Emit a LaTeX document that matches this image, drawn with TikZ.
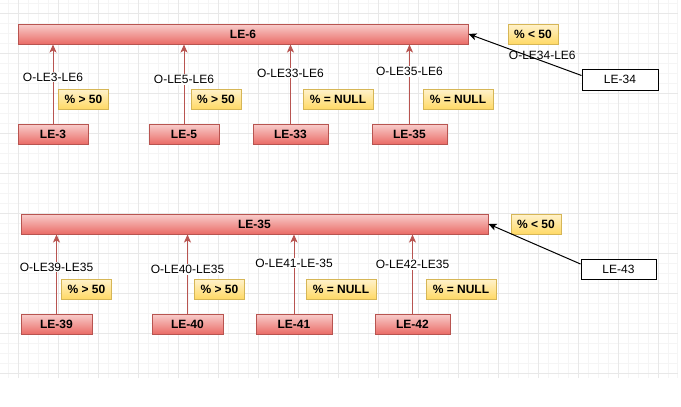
\documentclass[tikz,border=0pt]{standalone}
\usepackage{fontspec}
\setmainfont{Liberation Sans}
\usetikzlibrary{arrows.meta}

\definecolor{redline}{HTML}{B85450}
\definecolor{redtop}{HTML}{F8CECC}
\definecolor{redbot}{HTML}{EA6B66}
\definecolor{yelline}{HTML}{D6B656}
\definecolor{yeltop}{HTML}{FFF2CC}
\definecolor{yelbot}{HTML}{FFD966}

\begin{document}
\begin{tikzpicture}[
		x=1pt, y=-1pt,
		every node/.style={font=\fontsize{12}{14}\selectfont},
		bar/.style={
				draw=redline,
				line width=1pt,
				top color=redtop, bottom color=redbot,
				minimum height=20pt,
				inner sep=0pt,
				font=\fontsize{12}{14}\selectfont\bfseries
		},
		src/.style={bar, minimum width=70pt},
		tag/.style={
				draw=yelline,
				line width=1pt,
				top color=yeltop, bottom color=yelbot,
				minimum width=50pt,
				minimum height=20pt,
				inner sep=0pt,
				font=\fontsize{12}{14}\selectfont\bfseries
		},
		ext/.style={draw, line width=1pt, fill=white, minimum width=76pt, minimum height=21pt, inner sep=0pt},
		lbl/.style={fill=white, inner sep=1pt},
		arrow/.style={-{Stealth[length=8pt,width=7pt,inset=2pt]}, line width=1pt, draw=redline, fill=redline},
		plain/.style={-{Stealth[length=8pt,width=7pt,inset=2pt]}, line width=1pt, black}
	]

	\useasboundingbox (0,0) rectangle (681,407);

	% Background grid
	\begin{scope}[shift={(18,13)}]
		\draw[step=10pt, line width=1pt, draw=black!4] (-18,-13) grid (660,365);
		\draw[step=40pt, line width=1pt, draw=black!9] (-18,-13) grid (660,365);
	\end{scope}

	% First group
	\node[bar, minimum width=450pt] (le6) at (243,34) {LE-6};

	\node[src] (le3) at (53,134) {LE-3};
	\node[src] (le5) at (184,134) {LE-5};
	\node[src, minimum width=75pt] (le33) at (290.5,134) {LE-33};
	\node[src, minimum width=75pt] (le35) at (409.5,134) {LE-35};

	\node[tag] (t3) at (83.5,99) {\% > 50};
	\node[tag] (t5) at (216,99) {\% > 50};
	\node[tag, minimum width=70pt] (t33) at (338,99) {\% = NULL};
	\node[tag, minimum width=70pt] (t35) at (458,99) {\% = NULL};
	\node[tag] (t34) at (533,34) {\% < 50};

	\node[ext] (le34) at (620,79.5) {LE-34};

	\draw[arrow] (le3.north) -- (le3.north |- le6.south) node[lbl, pos=0.59] {O-LE3-LE6};
	\draw[arrow] (le5.north) -- (le5.north |- le6.south) node[lbl, pos=0.56] {O-LE5-LE6};
	\draw[arrow] (le33.north) -- (le33.north |- le6.south) node[lbl, pos=0.64] {O-LE33-LE6};
	\draw[arrow] (le35.north) -- (le35.north |- le6.south) node[lbl, pos=0.66] {O-LE35-LE6};
	\draw[plain] ([yshift=4pt]le34.west) -- (le6.east) node[pos=0.4, xshift=6pt, yshift=4pt] {O-LE34-LE6};

	% Second group
	\node[bar, minimum width=467pt] (le35b) at (254.5,224) {LE-35};

	\node[src, minimum width=71pt] (le39) at (56.5,324) {LE-39};
	\node[src, minimum width=71pt] (le40) at (187.5,324) {LE-40};
	\node[src, minimum width=76pt] (le41) at (294,324) {LE-41};
	\node[src, minimum width=75pt] (le42) at (412.5,324) {LE-42};

	\node[tag] (t39) at (86.5,289) {\% > 50};
	\node[tag] (t40) at (219.5,289) {\% > 50};
	\node[tag, minimum width=70pt] (t41) at (341,289) {\% = NULL};
	\node[tag, minimum width=70pt] (t42) at (461,289) {\% = NULL};
	\node[tag] (t43) at (536,224) {\% < 50};

	\node[ext, minimum width=75pt, minimum height=20pt] (le43) at (618.5,269) {LE-43};

	\draw[arrow] (le39.north) -- (le39.north |- le35b.south) node[lbl, pos=0.59] {O-LE39-LE35};
	\draw[arrow] (le40.north) -- (le40.north |- le35b.south) node[lbl, pos=0.56] {O-LE40-LE35};
	\draw[arrow] (le41.north) -- (le41.north |- le35b.south) node[lbl, pos=0.64] {O-LE41-LE-35};
	\draw[arrow] (le42.north) -- (le42.north |- le35b.south) node[lbl, pos=0.62] {O-LE42-LE35};
	\draw[plain] ([yshift=5pt]le43.west) -- (le35b.east);

\end{tikzpicture}
\end{document}
